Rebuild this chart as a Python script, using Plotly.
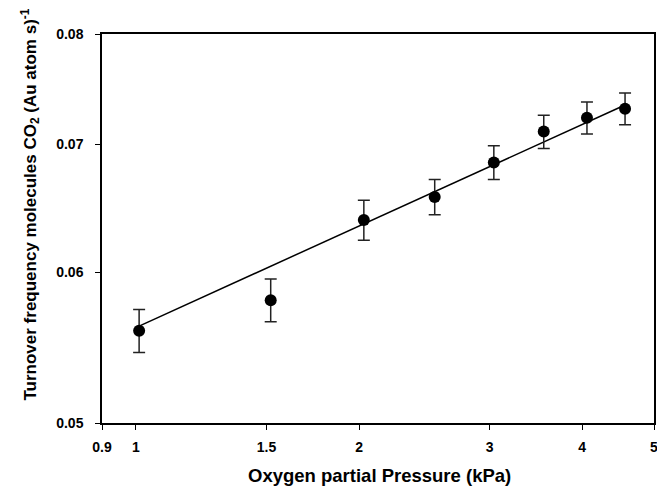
import plotly.graph_objects as go
import numpy as np

# Data
pressure_kpa = [1.01, 1.52, 2.03, 2.53, 3.04, 3.55, 4.06, 4.57]
tof = [0.0559, 0.0580, 0.0639, 0.0657, 0.0685, 0.0711, 0.0723, 0.0731]
tof_err = [0.00145, 0.0015, 0.00155, 0.0014, 0.0014, 0.00143, 0.0014, 0.0014]

# Power-law fit line y = a * x^b
fit_a = 0.05611
fit_b = 0.177

x_ticks = [0.9, 1, 1.5, 2, 3, 4, 5]
x_tick_labels = ["0.9", "1", "1.5", "2", "3", "4", "5"]
y_ticks = [0.05, 0.06, 0.07, 0.08]
y_tick_labels = ["0.05", "0.06", "0.07", "0.08"]

x_title = "Oxygen partial Pressure (kPa)"
y_title = "Turnover frequency molecules CO<sub>2</sub> (Au atom s)<sup>-1</sup>"

fit_x = np.array([min(pressure_kpa), max(pressure_kpa)])
fit_y = fit_a * fit_x ** fit_b

FONT = "Liberation Sans, Arial, sans-serif"

fig = go.Figure()
fig.add_trace(go.Scatter(
    x=fit_x, y=fit_y, mode="lines",
    line=dict(color="black", width=1.5),
    showlegend=False, hoverinfo="skip",
))
fig.add_trace(go.Scatter(
    x=pressure_kpa, y=tof, mode="markers",
    marker=dict(color="black", size=12, symbol="circle"),
    error_y=dict(type="data", array=tof_err, visible=True,
                 color="#222222", thickness=1.5, width=6),
    showlegend=False,
))

# the page body adds an 8px margin, so the figure is sized to fit the window
fig.update_layout(
    width=657, height=481,
    margin=dict(l=94, r=7, t=26, b=66),
    paper_bgcolor="white", plot_bgcolor="white",
    font=dict(family=FONT, color="black"),
)
fig.update_xaxes(
    type="log", range=[np.log10(0.9), np.log10(5)],
    tickvals=x_ticks, ticktext=["<b>%s</b>" % t for t in x_tick_labels],
    tickfont=dict(size=14, family=FONT),
    ticks="outside", ticklen=5, tickwidth=1, tickcolor="black",
    ticklabelstandoff=5,
    showline=True, linecolor="black", linewidth=1.5, mirror=True,
    showgrid=False, zeroline=False,
)
fig.update_yaxes(
    type="log", range=[np.log10(0.05), np.log10(0.08)],
    tickvals=y_ticks, ticktext=["<b>%s</b>" % t for t in y_tick_labels],
    tickfont=dict(size=14, family=FONT),
    ticks="outside", ticklen=5, tickwidth=1, tickcolor="black",
    ticklabelstandoff=9,
    showline=True, linecolor="black", linewidth=1.5, mirror=True,
    showgrid=False, zeroline=False,
)

fig.add_annotation(
    text="<b>%s</b>" % x_title, xref="paper", yref="paper",
    x=0.5036, y=-0.1362, xanchor="center", yanchor="middle",
    showarrow=False, font=dict(size=18.5, family=FONT, color="black"),
)
fig.add_annotation(
    text="<b>%s</b>" % y_title, xref="paper", yref="paper",
    x=-0.1313, y=0.5604, xanchor="center", yanchor="middle",
    textangle=-90, showarrow=False,
    font=dict(size=17, family=FONT, color="black"),
)

fig.write_html("out.html")
